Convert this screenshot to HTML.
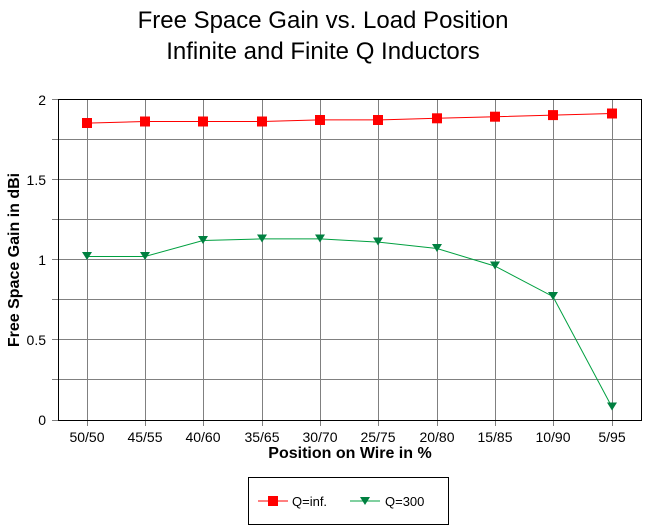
<!DOCTYPE html>
<html><head><style>body{margin:0;background:#fff}svg{display:block}text{font-family:"Liberation Sans",sans-serif}</style></head><body>
<svg width="647" height="529" xmlns="http://www.w3.org/2000/svg">
<text x="323" y="28" font-size="24" text-anchor="middle">Free Space Gain vs. Load Position</text>
<text x="323" y="59" font-size="24" text-anchor="middle">Infinite and Finite Q Inductors</text>
<g stroke="#808080" stroke-width="1">
<line x1="52" y1="139.5" x2="641" y2="139.5"/><line x1="52" y1="179.5" x2="641" y2="179.5"/><line x1="52" y1="219.5" x2="641" y2="219.5"/><line x1="52" y1="259.5" x2="641" y2="259.5"/><line x1="52" y1="299.5" x2="641" y2="299.5"/><line x1="52" y1="339.5" x2="641" y2="339.5"/><line x1="52" y1="379.5" x2="641" y2="379.5"/>
<line x1="52" y1="99.5" x2="58" y2="99.5"/><line x1="52" y1="420.5" x2="58" y2="420.5"/>
<line x1="87.5" y1="99" x2="87.5" y2="426"/><line x1="145.5" y1="99" x2="145.5" y2="426"/><line x1="203.5" y1="99" x2="203.5" y2="426"/><line x1="262.5" y1="99" x2="262.5" y2="426"/><line x1="320.5" y1="99" x2="320.5" y2="426"/><line x1="378.5" y1="99" x2="378.5" y2="426"/><line x1="437.5" y1="99" x2="437.5" y2="426"/><line x1="495.5" y1="99" x2="495.5" y2="426"/><line x1="553.5" y1="99" x2="553.5" y2="426"/><line x1="612.5" y1="99" x2="612.5" y2="426"/>
</g>
<rect x="58.5" y="99.5" width="583" height="321" fill="none" stroke="#000"/>
<g font-size="14" text-anchor="end"><text x="46" y="105">2</text><text x="46" y="185">1.5</text><text x="46" y="265">1</text><text x="46" y="345">0.5</text><text x="46" y="425">0</text></g>
<g font-size="14" text-anchor="middle"><text x="87" y="442">50/50</text><text x="145" y="442">45/55</text><text x="203" y="442">40/60</text><text x="262" y="442">35/65</text><text x="320" y="442">30/70</text><text x="378" y="442">25/75</text><text x="437" y="442">20/80</text><text x="495" y="442">15/85</text><text x="553" y="442">10/90</text><text x="612" y="442">5/95</text></g>
<text x="350" y="458" font-size="16" font-weight="bold" text-anchor="middle">Position on Wire in %</text>
<text transform="translate(19,260) rotate(-90)" font-size="16" font-weight="bold" text-anchor="middle">Free Space Gain in dBi</text>
<polyline fill="none" stroke="#f00" points="87,123.1 145,121.5 203,121.5 262,121.5 320,119.9 378,119.9 437,118.3 495,116.7 553,115.1 612,113.5"/>
<g fill="#f00"><rect x="82" y="118" width="10" height="10"/><rect x="140" y="116.5" width="10" height="10"/><rect x="198" y="116.5" width="10" height="10"/><rect x="257" y="116.5" width="10" height="10"/><rect x="315" y="115" width="10" height="10"/><rect x="373" y="115" width="10" height="10"/><rect x="432" y="113.3" width="10" height="10"/><rect x="490" y="111.7" width="10" height="10"/><rect x="548" y="110.1" width="10" height="10"/><rect x="607" y="108.5" width="10" height="10"/></g>
<polyline fill="none" stroke="#00a040" points="87,256.5 145,256.5 203,240.5 262,238.9 320,238.9 378,242.1 437,248.5 495,266.1 553,296.6 612,407.1"/>
<g fill="#008040"><path d="M82,252h10l-5,8z"/><path d="M140,252h10l-5,8z"/><path d="M198,236h10l-5,8z"/><path d="M257,234.5h10l-5,8z"/><path d="M315,234.5h10l-5,8z"/><path d="M373,237.5h10l-5,8z"/><path d="M432,244h10l-5,8z"/><path d="M490,261.5h10l-5,8z"/><path d="M548,292h10l-5,8z"/><path d="M607,402.5h10l-5,8z"/></g>
<rect x="248.5" y="477.5" width="200" height="47" fill="none" stroke="#000"/>
<line x1="258" y1="501" x2="288" y2="501" stroke="#f00"/><rect x="268" y="496" width="10" height="10" fill="#f00"/>
<text x="292" y="506" font-size="13">Q=inf.</text>
<line x1="350" y1="501" x2="380" y2="501" stroke="#00a040"/><path d="M360,497h10l-5,8z" fill="#008040"/>
<text x="385" y="506" font-size="13">Q=300</text>
</svg>
</body></html>
